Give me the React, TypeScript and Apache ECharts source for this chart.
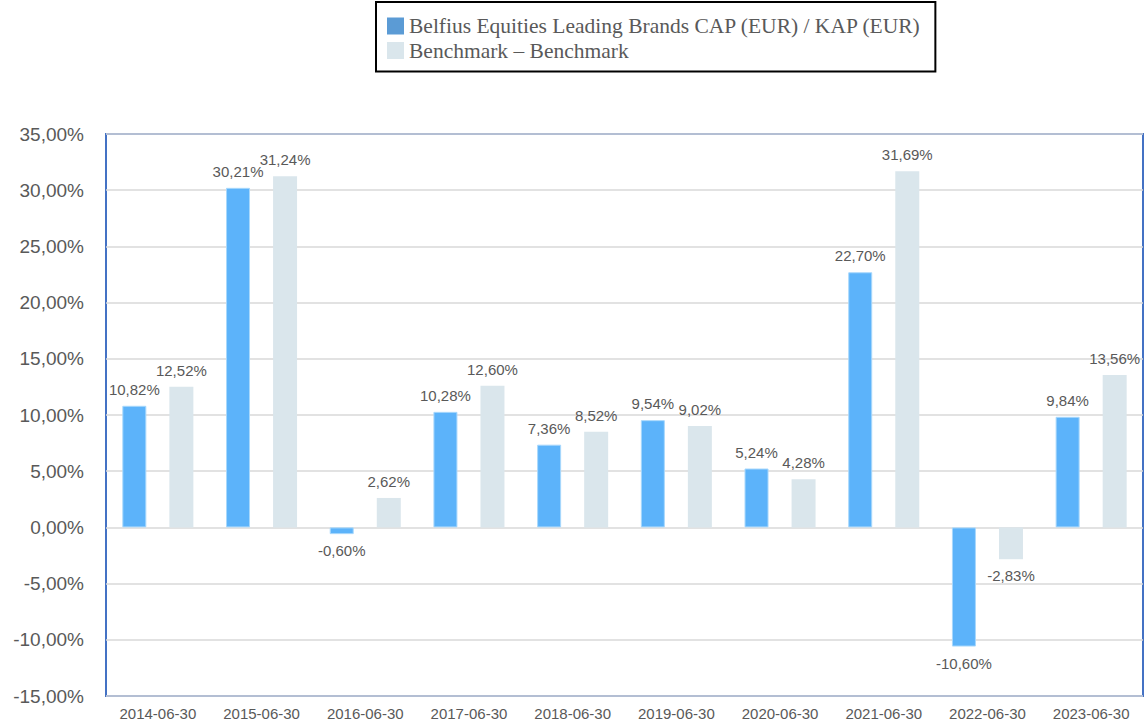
import React, { useEffect, useRef } from "react";
import * as echarts from "echarts";

const categories = [
  "2014-06-30", "2015-06-30", "2016-06-30", "2017-06-30", "2018-06-30",
  "2019-06-30", "2020-06-30", "2021-06-30", "2022-06-30", "2023-06-30",
];
const fundName = "Belfius Equities Leading Brands CAP (EUR) / KAP (EUR)";
const benchName = "Benchmark – Benchmark";
const fundValues = [10.82, 30.21, -0.6, 10.28, 7.36, 9.54, 5.24, 22.7, -10.6, 9.84];
const benchValues = [12.52, 31.24, 2.62, 12.6, 8.52, 9.02, 4.28, 31.69, -2.83, 13.56];

const fmt = (v: number) => v.toFixed(2).replace(".", ",") + "%";

export default function App() {
  const ref = useRef<HTMLDivElement>(null);
  useEffect(() => {
    if (!ref.current) return;
    const chart = echarts.init(ref.current, null, { renderer: "svg" });
    const labelStyle = {
      show: true,
      position: "top" as const,
      distance: 9,
      color: "#595959",
      fontSize: 15,
      fontFamily: "Liberation Sans, Arial, sans-serif",
      formatter: (p: any) => fmt(p.value),
    };
    const mkData = (vals: number[]) =>
      vals.map((v) => ({
        value: v,
        label: { position: v < 0 ? "bottom" : "top" },
      }));
    chart.setOption({
      animation: false,
      legend: {
        orient: "vertical",
        left: 376,
        top: 2,
        padding: [13, 14, 10, 11],
        itemWidth: 17,
        itemHeight: 17,
        itemGap: 2.5,
        borderColor: "#000",
        borderWidth: 2,
        icon: "rect",
        textStyle: {
          color: "#595959",
          fontSize: 21.5,
          fontFamily: "Liberation Serif, Times New Roman, serif",
        },
        data: [
          { name: fundName, itemStyle: { color: "#5B9BD5", borderWidth: 0 } },
          { name: benchName, itemStyle: { color: "#DAE6EC", borderWidth: 0 } },
        ],
      },
      grid: {
        left: 106,
        top: 134,
        right: 1,
        bottom: 28,
        show: true,
        borderColor: "#4472C4",
        borderWidth: 2,
        containLabel: false,
      },
      xAxis: {
        type: "category",
        data: categories,
        axisLine: { show: false },
        axisTick: { show: false },
        axisLabel: {
          color: "#595959",
          fontSize: 15,
          fontFamily: "Liberation Sans, Arial, sans-serif",
          margin: 10,
        },
      },
      yAxis: {
        type: "value",
        min: -15,
        max: 35,
        interval: 5,
        axisLine: { show: false },
        axisTick: { show: false },
        splitLine: { lineStyle: { color: "#D9D9D9", width: 1.5 } },
        axisLabel: {
          color: "#595959",
          fontSize: 19,
          fontFamily: "Liberation Sans, Arial, sans-serif",
          margin: 22,
          formatter: (v: number) => fmt(v),
        },
      },
      series: [
        {
          name: fundName,
          type: "bar",
          data: mkData(fundValues),
          barWidth: 24,
          barGap: "96%",
          itemStyle: { color: "#5CB3FA", borderColor: "#A8D8FC", borderWidth: 1 },
          label: labelStyle,
        },
        {
          name: benchName,
          type: "bar",
          data: mkData(benchValues),
          barWidth: 24,
          itemStyle: { color: "#DAE6EC" },
          label: labelStyle,
        },
      ],
    });
    return () => chart.dispose();
  }, []);
  return <div ref={ref} style={{ width: 1144, height: 724, position: "absolute", left: 0, top: 0 }} />;
}
